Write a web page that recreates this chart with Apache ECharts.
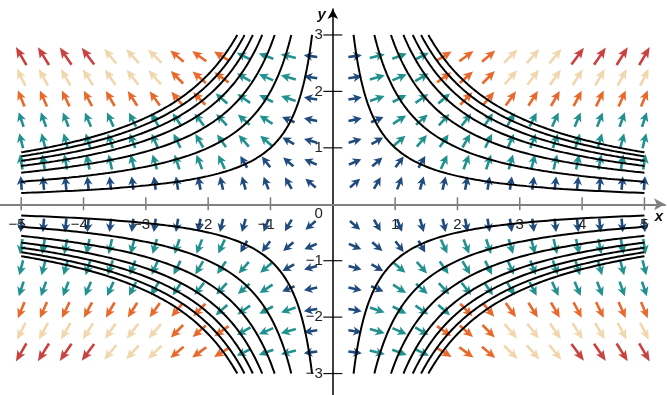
<!DOCTYPE html>
<html>
<head>
<meta charset="utf-8">
<script src="https://cdn.jsdelivr.net/npm/echarts@6/dist/echarts.min.js"></script>
<style>
html,body{margin:0;padding:0;background:#fff;}
#c{width:667px;height:395px;}
</style>
</head>
<body>
<div id="c"></div>
<script>
// ---- data ----
// sample columns (x > 0) and rows (y > 0); mirrored into all four quadrants
const gridX = [0.357, 0.714, 1.071, 1.429, 1.786, 2.143, 2.5, 2.857, 3.214, 3.571, 3.929, 4.286, 4.643, 5];
const gridY = [0.375, 0.75, 1.125, 1.5, 1.875, 2.25, 2.625];
// colour level of each arrow (row = gridY index, col = gridX index), 0 = smallest
const levelRows = [
  [0,0,0,0,0,0,0,0,0,0,0,0,0,0],
  [0,0,0,0,1,1,1,1,1,1,1,1,1,1],
  [0,0,1,1,1,1,1,1,1,1,1,1,1,1],
  [0,0,1,1,1,1,1,1,1,1,1,1,1,1],
  [0,1,1,1,1,2,2,2,2,2,2,2,2,2],
  [0,1,1,1,2,2,2,3,3,3,3,3,3,3],
  [0,1,1,1,2,2,2,3,3,3,4,4,4,4]
];
// level curves |x*y| = c
const curveLevels = [1.0, 2.0, 2.8, 3.4, 3.85, 4.25, 4.6];
const xTickValues = [-5, -4, -3, -2, -1, 1, 2, 3, 4, 5];
const yTickValues = [-3, -2, -1, 1, 2, 3];
const xLabelValues = [-5, -4, -3, -2, -1, 1, 2, 3, 4, 5];
const yLabelValues = [-3, -2, -1, 0, 1, 2, 3];

// ---- styles ----
const levelColors = ['#1f4b7e', '#21918f', '#e8692b', '#f0d7ae', '#c9423f'];
const levelLen = [13.5, 15.5, 17.5, 19, 21];
const font = '15px "Liberation Sans", Arial, sans-serif';
const txtColor = '#222';

// gradient field direction of x^2 y^2
function field(x, y) { const s = Math.sign(x * y); return [s * y, s * x]; }

const arrowData = [];
[1, -1].forEach(sx => [1, -1].forEach(sy => {
  gridY.forEach((gy, r) => gridX.forEach((gx, c) => {
    arrowData.push([sx * gx, sy * gy, levelRows[r][c]]);
  }));
}));

const series = [];
series.push({
  type: 'custom',
  z: 2,
  silent: true,
  clip: false,
  data: arrowData,
  renderItem: function (params, api) {
    const x = api.value(0), y = api.value(1), lv = api.value(2);
    const p = api.coord([x, y]);
    const f = field(x, y);
    const q = api.coord([x + f[0] * 0.01, y + f[1] * 0.01]);
    let ux = q[0] - p[0], uy = q[1] - p[1];
    const n = Math.hypot(ux, uy); ux /= n; uy /= n;
    const vx = -uy, vy = ux;
    const L = levelLen[lv];
    const hl = 8.6 + (L - 13.5) * 0.3, hw = 4.5, sw = 1.3;
    const tail = [p[0] - ux * L / 2, p[1] - uy * L / 2];
    const tip = [p[0] + ux * L / 2, p[1] + uy * L / 2];
    const base = [tip[0] - ux * hl, tip[1] - uy * hl];
    const notch = [base[0] + ux * 1.8, base[1] + uy * 1.8];
    const pts = [
      [tail[0] + vx * sw, tail[1] + vy * sw],
      [notch[0] + vx * sw, notch[1] + vy * sw],
      [base[0] + vx * hw, base[1] + vy * hw],
      tip,
      [base[0] - vx * hw, base[1] - vy * hw],
      [notch[0] - vx * sw, notch[1] - vy * sw],
      [tail[0] - vx * sw, tail[1] - vy * sw]
    ];
    return { type: 'polygon', shape: { points: pts }, style: { fill: levelColors[lv] } };
  }
});

// level curves
curveLevels.forEach(c => {
  [1, -1].forEach(sx => [1, -1].forEach(sy => {
    const pts = [];
    const x0 = c / 3, x1 = 5, N = 160;
    for (let i = 0; i <= N; i++) {
      const x = x0 * Math.pow(x1 / x0, i / N);
      pts.push([sx * x, sy * c / x]);
    }
    series.push({
      type: 'line', data: pts, showSymbol: false, silent: true, z: 5,
      lineStyle: { color: '#000', width: 2 }, clip: false
    });
  }));
});

// tick marks crossing the axes
series.push({
  type: 'custom', z: 3, silent: true, clip: false,
  data: xTickValues.map(v => [v, 0]),
  renderItem: function (params, api) {
    const p = api.coord([api.value(0), 0]);
    return { type: 'line', shape: { x1: p[0], y1: p[1] - 7, x2: p[0], y2: p[1] + 6 }, style: { stroke: '#7a7a7a', lineWidth: 1.5 } };
  }
});
series.push({
  type: 'custom', z: 3, silent: true, clip: false,
  data: yTickValues.map(v => [0, v]),
  renderItem: function (params, api) {
    const p = api.coord([0, api.value(1)]);
    return { type: 'line', shape: { x1: p[0] - 9.5, y1: p[1], x2: p[0] + 9.5, y2: p[1] }, style: { stroke: '#111', lineWidth: 1.2 } };
  }
});
// tick labels
series.push({
  type: 'custom', z: 6, silent: true, clip: false,
  data: xLabelValues.map(v => [v, 0]),
  renderItem: function (params, api) {
    const v = api.value(0);
    const p = api.coord([v, 0]);
    const neg = v < 0;
    return {
      type: 'text', x: neg ? p[0] + 4.3 : p[0], y: p[1] + 13,
      style: { text: neg ? '\u2212' + Math.abs(v) : String(v), font: font, fill: txtColor, align: neg ? 'right' : 'center', verticalAlign: 'top' }
    };
  }
});
series.push({
  type: 'custom', z: 6, silent: true, clip: false,
  data: yLabelValues.map(v => [0, v]),
  renderItem: function (params, api) {
    const v = api.value(1);
    const p = api.coord([0, v]);
    return {
      type: 'text', x: p[0] - 10, y: v === 0 ? p[1] + 10 : p[1],
      style: { text: v < 0 ? '\u2212' + Math.abs(v) : String(v), font: font, fill: txtColor, align: 'right', verticalAlign: 'middle' }
    };
  }
});

const chart = echarts.init(document.getElementById('c'), null, { renderer: 'canvas' });
chart.setOption({
  animation: false,
  backgroundColor: '#fff',
  grid: { left: 0, right: 2, top: 9, bottom: 0, containLabel: false, outerBoundsMode: 'none' },
  xAxis: {
    type: 'value', min: -5.34, max: 5.33,
    splitLine: { show: false },
    axisTick: { show: false },
    axisLabel: { show: false },
    axisLine: { onZero: true, lineStyle: { color: '#808080', width: 2 }, symbol: ['none', 'arrow'], symbolSize: [9, 11], symbolOffset: [0, 0] },
    name: 'x', nameLocation: 'end', nameGap: -6,
    nameTextStyle: { fontSize: 15, fontFamily: 'Liberation Sans', fontWeight: 'bold', fontStyle: 'italic', color: '#111', verticalAlign: 'top', align: 'center', padding: [5, 0, 0, 0] },
    z: 4
  },
  yAxis: {
    type: 'value', min: -3.38, max: 3.46,
    splitLine: { show: false },
    axisTick: { show: false },
    axisLabel: { show: false },
    axisLine: { onZero: true, lineStyle: { color: '#000', width: 1.5 }, symbol: ['none', 'arrow'], symbolSize: [8, 10], symbolOffset: [0, 0] },
    name: 'y', nameLocation: 'end', nameGap: -6,
    nameTextStyle: { fontSize: 15, fontFamily: 'Liberation Sans', fontWeight: 'bold', fontStyle: 'italic', color: '#111', align: 'right', verticalAlign: 'middle', padding: [0, 7, 6, 0] },
    z: 4
  },
  series: series
});
</script>
</body>
</html>
